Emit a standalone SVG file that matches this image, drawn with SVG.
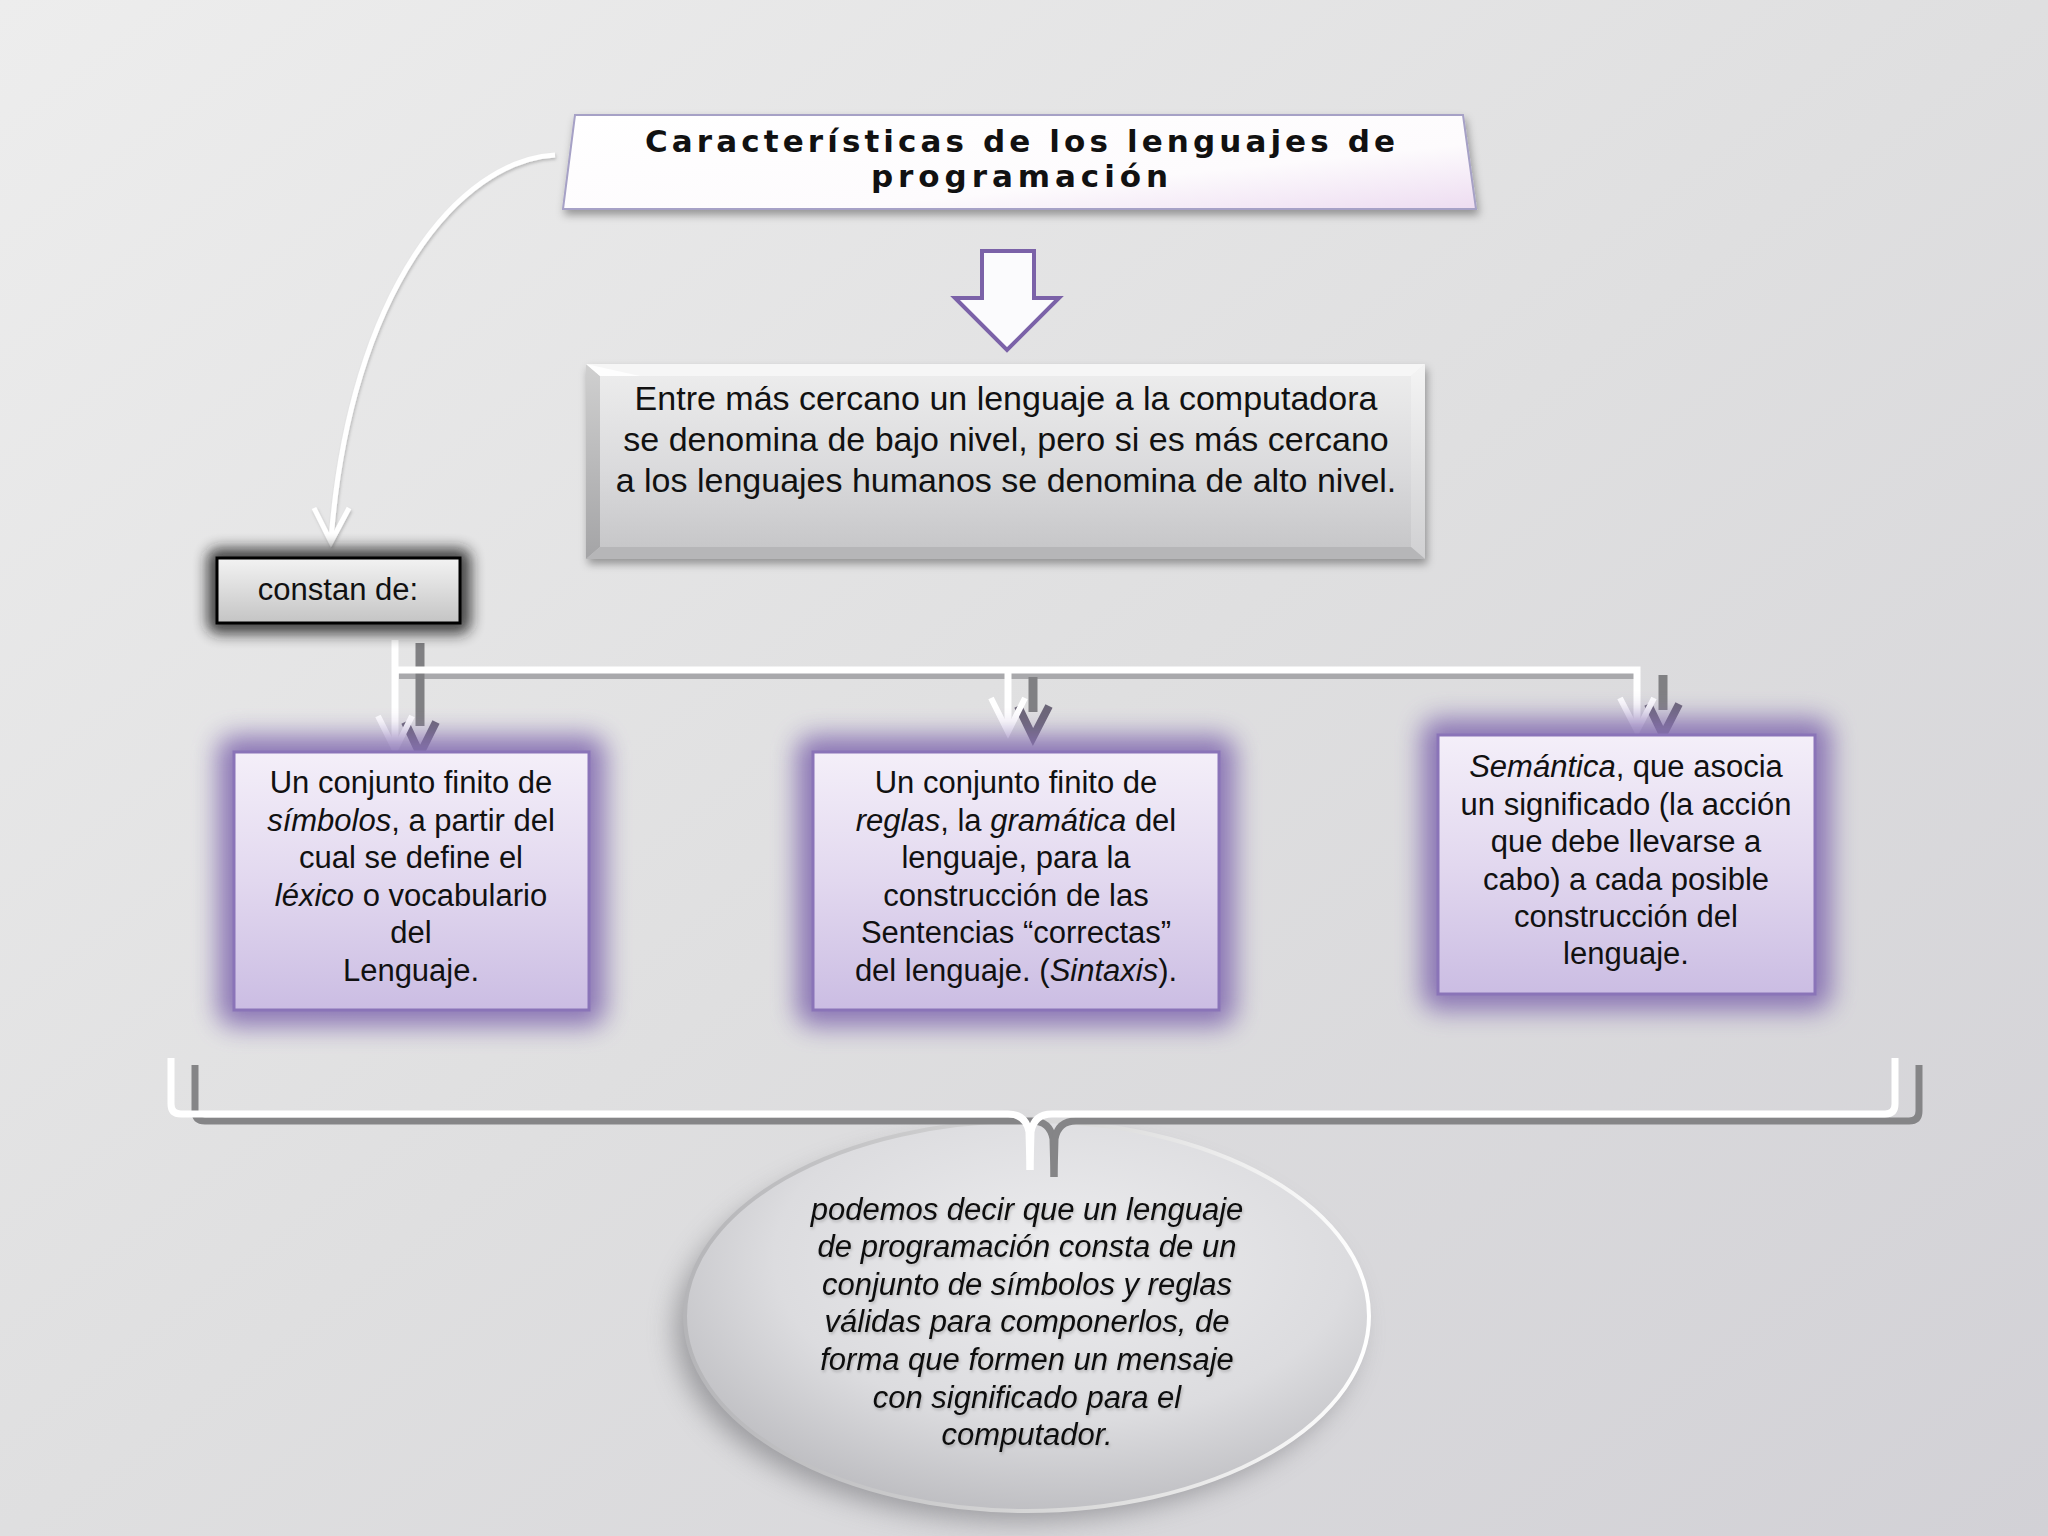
<svg xmlns="http://www.w3.org/2000/svg" width="2048" height="1536" viewBox="0 0 2048 1536">
  <defs>
    <linearGradient id="bg" x1="0" y1="0" x2="1" y2="1">
      <stop offset="0" stop-color="#ededed"/>
      <stop offset="0.5" stop-color="#dfdfe0"/>
      <stop offset="1" stop-color="#d2d1d6"/>
    </linearGradient>
    <linearGradient id="titleFill" x1="0" y1="0" x2="1" y2="1">
      <stop offset="0" stop-color="#ffffff"/>
      <stop offset="0.65" stop-color="#fdfbfd"/>
      <stop offset="1" stop-color="#eddcf1"/>
    </linearGradient>
    <linearGradient id="bevelFace" x1="0" y1="0" x2="0" y2="1">
      <stop offset="0" stop-color="#eeeeee"/>
      <stop offset="0.55" stop-color="#dadadc"/>
      <stop offset="1" stop-color="#c4c4c6"/>
    </linearGradient>
    <linearGradient id="bevelLeft" x1="0" y1="0" x2="0" y2="1">
      <stop offset="0" stop-color="#d0d0d0"/>
      <stop offset="1" stop-color="#a4a4a6"/>
    </linearGradient>
    <linearGradient id="bevelRight" x1="0" y1="0" x2="0" y2="1">
      <stop offset="0" stop-color="#f4f4f4"/>
      <stop offset="1" stop-color="#d0d0d2"/>
    </linearGradient>
    <linearGradient id="constFill" x1="0" y1="0" x2="0" y2="1">
      <stop offset="0" stop-color="#f3f3f3"/>
      <stop offset="1" stop-color="#c4c4c4"/>
    </linearGradient>
    <linearGradient id="purpleFill" x1="0" y1="0" x2="0" y2="1">
      <stop offset="0" stop-color="#f4eff9"/>
      <stop offset="0.5" stop-color="#e2d8ef"/>
      <stop offset="1" stop-color="#cbbde3"/>
    </linearGradient>
    <radialGradient id="ellFill" cx="0.55" cy="0.35" r="0.7">
      <stop offset="0" stop-color="#ececee"/>
      <stop offset="0.6" stop-color="#dcdcdf"/>
      <stop offset="1" stop-color="#b9b9bd"/>
    </radialGradient>
    <linearGradient id="ellRim" x1="0" y1="0" x2="1" y2="0">
      <stop offset="0" stop-color="#b5b5b8"/>
      <stop offset="0.6" stop-color="#dcdcdc"/>
      <stop offset="1" stop-color="#ffffff"/>
    </linearGradient>
    <filter id="shadow" x="-10%" y="-20%" width="120%" height="150%">
      <feDropShadow dx="2" dy="5" stdDeviation="4" flood-color="#000" flood-opacity="0.35"/>
    </filter>
    <filter id="blurPurple" x="-20%" y="-20%" width="140%" height="140%">
      <feGaussianBlur stdDeviation="13"/>
    </filter>
    <filter id="blurDark" x="-20%" y="-40%" width="140%" height="180%">
      <feGaussianBlur stdDeviation="7"/>
    </filter>
    <filter id="blurEll" x="-20%" y="-20%" width="140%" height="140%">
      <feGaussianBlur stdDeviation="14"/>
    </filter>
    <filter id="soft" x="-10%" y="-10%" width="120%" height="120%">
      <feDropShadow dx="1" dy="2" stdDeviation="1.5" flood-color="#000" flood-opacity="0.2"/>
    </filter>
  </defs>
  <style>
    text { font-family: "Liberation Sans", Arial, sans-serif; fill: #111; }
    .title { font-family: "DejaVu Sans", "Liberation Sans", sans-serif; font-size: 31px; font-weight: bold; }
    .t34 { font-size: 34px; text-anchor: middle; }
    .t31 { font-size: 31px; text-anchor: middle; }
    .it { font-style: italic; }
    .pbox { fill: url(#purpleFill); stroke: #8a74b8; stroke-width: 3; }
    .pglow { fill: #8670b2; opacity: 0.95; filter: url(#blurPurple); }
    .wline { fill: none; stroke: #ffffff; stroke-width: 7; stroke-linejoin: miter; }
    .gline { fill: none; stroke: #808083; stroke-width: 9; }
    .gchev { fill: none; stroke: #6c6678; stroke-width: 8; }
    .wchev { fill: none; stroke: #ffffff; stroke-width: 6; }
  </style>

  <rect width="2048" height="1536" fill="url(#bg)"/>

  <g id="connectors">
    <!-- curved arrow from title to "constan de:" -->
    <g filter="url(#soft)">
      <path d="M 555 155 C 460 160 350 290 331 540" fill="none" stroke="#ffffff" stroke-width="5"/>
      <path d="M 314 508 L 331 542 L 349 508" fill="none" stroke="#ffffff" stroke-width="5"/>
    </g>
    <!-- purple block arrow -->
    <polygon points="982,251 1034,251 1034,298 1059,298 1007,350 955,298 982,298" fill="#fbfbfd" stroke="#7b62a8" stroke-width="4"/>
    <!-- gray shadows of tree connectors -->
    <path d="M 399 676 H 1640" fill="none" stroke="#a9a9ac" stroke-width="6"/>
    <path class="gline" d="M 420 643 V 726"/>
    <path class="gchev" d="M 405 722 L 420 754 L 436 722"/>
    <path class="gline" d="M 1033 677 V 712"/>
    <path class="gchev" d="M 1018 706 L 1033 737 L 1049 706"/>
    <path class="gline" d="M 1663 675 V 710"/>
    <path class="gchev" d="M 1648 704 L 1663 735 L 1679 704"/>
    <!-- white tree connectors -->
    <path class="wline" d="M 395 640 V 744"/>
    <path class="wline" d="M 395 670 H 1637 V 726"/>
    <path class="wline" d="M 1008 670 V 727"/>
    <path class="wchev" d="M 378 716 L 395 750 L 412 716"/>
    <path class="wchev" d="M 991 698 L 1008 732 L 1025 698"/>
    <path class="wchev" d="M 1620 698 L 1637 731 L 1654 698"/>
  </g>

  <g id="title">
    <polygon points="575,115 1463,115 1476,209 563,209" fill="url(#titleFill)" stroke="#a6a1c6" stroke-width="2" filter="url(#shadow)"/>
    <text class="title" x="645" y="152" textLength="750" lengthAdjust="spacing">Características de los lenguajes de</text>
    <text class="title" x="871" y="187" textLength="297" lengthAdjust="spacing">programación</text>
  </g>

  <g id="nivel">
    <g filter="url(#shadow)">
      <rect x="586" y="364" width="839" height="195" fill="url(#bevelFace)"/>
    </g>
    <polygon points="586,364 1425,364 1411,376 600,376" fill="#f6f6f6"/>
    <polygon points="586,364 600,376 600,547 586,559" fill="url(#bevelLeft)"/>
    <polygon points="1425,364 1425,559 1411,547 1411,376" fill="url(#bevelRight)"/>
    <polygon points="586,559 600,547 1411,547 1425,559" fill="#b6b6b8"/>
    <polygon points="586,364 600,376 640,376" fill="#ffffff" opacity="0.9"/>
    <text class="t34" x="1006" y="410">Entre más cercano un lenguaje a la computadora</text>
    <text class="t34" x="1006" y="451">se denomina de bajo nivel, pero si es más cercano</text>
    <text class="t34" x="1006" y="492">a los lenguajes humanos se denomina de alto nivel.</text>
  </g>

  <g id="constan">
    <rect x="207" y="548" width="264" height="86" rx="12" fill="#1a1a1a" opacity="0.8" filter="url(#blurDark)"/>
    <rect x="217" y="558" width="243" height="65" fill="url(#constFill)" stroke="#000" stroke-width="3"/>
    <text class="t31" x="338" y="600">constan de:</text>
  </g>

  <g id="simbolos">
    <rect class="pglow" x="218" y="736" width="387" height="290" rx="16"/>
    <rect class="pbox" x="234" y="752" width="355" height="258"/>
    <text class="t31" x="411" y="793">Un conjunto finito de</text>
    <text class="t31" x="411" y="831"><tspan class="it">símbolos</tspan>, a partir del</text>
    <text class="t31" x="411" y="868">cual se define el</text>
    <text class="t31" x="411" y="906"><tspan class="it">léxico</tspan> o vocabulario</text>
    <text class="t31" x="411" y="943">del</text>
    <text class="t31" x="411" y="981">Lenguaje.</text>
  </g>

  <g id="reglas">
    <rect class="pglow" x="797" y="736" width="438" height="290" rx="16"/>
    <rect class="pbox" x="813" y="752" width="406" height="258"/>
    <text class="t31" x="1016" y="793">Un conjunto finito de</text>
    <text class="t31" x="1016" y="831"><tspan class="it">reglas</tspan>, la <tspan class="it">gramática</tspan> del</text>
    <text class="t31" x="1016" y="868">lenguaje, para la</text>
    <text class="t31" x="1016" y="906">construcción de las</text>
    <text class="t31" x="1016" y="943">Sentencias “correctas”</text>
    <text class="t31" x="1016" y="981">del lenguaje. (<tspan class="it">Sintaxis</tspan>).</text>
  </g>

  <g id="semantica">
    <rect class="pglow" x="1422" y="719" width="409" height="291" rx="16"/>
    <rect class="pbox" x="1438" y="735" width="377" height="259"/>
    <text class="t31" x="1626" y="777"><tspan class="it">Semántica</tspan>, que asocia</text>
    <text class="t31" x="1626" y="815">un significado (la acción</text>
    <text class="t31" x="1626" y="852">que debe llevarse a</text>
    <text class="t31" x="1626" y="890">cabo) a cada posible</text>
    <text class="t31" x="1626" y="927">construcción del</text>
    <text class="t31" x="1626" y="964">lenguaje.</text>
  </g>

  <g id="conclusion">
    <ellipse cx="1016" cy="1330" rx="340" ry="190" fill="#6d6d72" opacity="0.6" filter="url(#blurEll)"/>
    <ellipse cx="1027" cy="1316" rx="342" ry="195" fill="url(#ellFill)" stroke="url(#ellRim)" stroke-width="4"/>
    <g class="it" filter="url(#soft)">
      <text class="t31" x="1027" y="1220">podemos decir que un lenguaje</text>
      <text class="t31" x="1027" y="1257">de programación consta de un</text>
      <text class="t31" x="1027" y="1295">conjunto de símbolos y reglas</text>
      <text class="t31" x="1027" y="1332">válidas para componerlos, de</text>
      <text class="t31" x="1027" y="1370">forma que formen un mensaje</text>
      <text class="t31" x="1027" y="1408">con significado para el</text>
      <text class="t31" x="1027" y="1445">computador.</text>
    </g>
  </g>

  <g id="brace">
    <g transform="translate(24,7)" fill="none" stroke="#858587" stroke-width="7">
      <path d="M 171 1058 V 1104 Q 171 1114 181 1114 H 1008 Q 1026 1114 1029 1132 L 1030 1170"/>
      <path d="M 1895 1058 V 1104 Q 1895 1114 1885 1114 H 1052 Q 1034 1114 1031 1132 L 1030 1170"/>
    </g>
    <g fill="none" stroke="#ffffff" stroke-width="7">
      <path d="M 171 1058 V 1104 Q 171 1114 181 1114 H 1008 Q 1026 1114 1029 1132 L 1030 1170"/>
      <path d="M 1895 1058 V 1104 Q 1895 1114 1885 1114 H 1052 Q 1034 1114 1031 1132 L 1030 1170"/>
    </g>
  </g>
</svg>
